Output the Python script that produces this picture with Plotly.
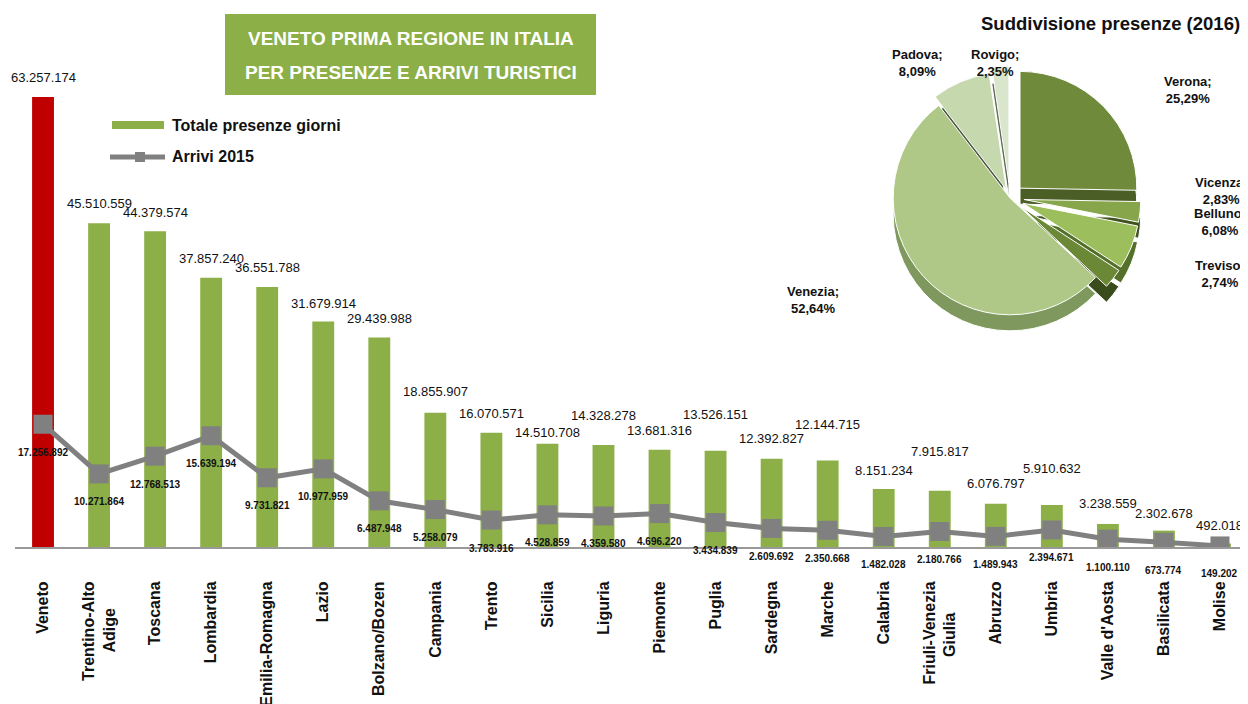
import plotly.graph_objects as go

# ---------------- data ----------------
categories = ["Veneto", "Trentino-Alto Adige", "Toscana", "Lombardia", "Emilia-Romagna",
              "Lazio", "Bolzano/Bozen", "Campania", "Trento", "Sicilia", "Liguria",
              "Piemonte", "Puglia", "Sardegna", "Marche", "Calabria",
              "Friuli-Venezia Giulia", "Abruzzo", "Umbria", "Valle d'Aosta",
              "Basilicata", "Molise"]
NB = "\u00a0"
tick_labels = ["Veneto", "Trentino-Alto<br>Adige" + NB * 6, "Toscana", "Lombardia", "Emilia-Romagna",
               "Lazio", "Bolzano/Bozen", "Campania", "Trento", "Sicilia", "Liguria",
               "Piemonte", "Puglia", "Sardegna", "Marche", "Calabria",
               "Friuli-Venezia<br>Giulia" + NB * 7, "Abruzzo", "Umbria", "Valle d'Aosta",
               "Basilicata", "Molise"]
presenze = [63257174, 45510559, 44379574, 37857240, 36551788, 31679914, 29439988,
            18855907, 16070571, 14510708, 14328278, 13681316, 13526151, 12392827,
            12144715, 8151234, 7915817, 6076797, 5910632, 3238559, 2302678, 492018]
arrivi = [17256892, 10271864, 12768513, 15639194, 9731821, 10977959, 6487948,
          5258079, 3783916, 4528859, 4359580, 4696220, 3434839, 2609692,
          2350668, 1482028, 2180766, 1489943, 2394671, 1100110, 673774, 149202]

pie_labels = ["Verona", "Vicenza", "Belluno", "Treviso", "Venezia", "Padova", "Rovigo"]
pie_values = [25.29, 2.83, 6.08, 2.74, 52.64, 8.09, 2.35]

title_lines = ["VENETO PRIMA REGIONE IN ITALIA", "PER PRESENZE E ARRIVI TURISTICI"]
pie_title = "Suddivisione presenze (2016)"
legend_names = ["Totale presenze giorni", "Arrivi 2015"]

# ---------------- style ----------------
OX, OY = 8, 8            # page body margin of the html page
W, H = 1240, 696
GREEN = "#8CAF48"
RED = "#C00000"
GREY = "#808080"
FONT = "Liberation Sans, Arial, Helvetica, sans-serif"
bar_colors = [RED] + [GREEN] * (len(categories) - 1)
bar_label_lift = [19, 20, 19, 19, 19, 18, 19, 21, 19, 11, 30, 19, 36, 20, 36, 19, 39, 20, 36, 20, 17, 18]
pie_colors = ["#708A3C", "#87A54B", "#9DBE5C", "#6A8835", "#AFC887", "#C6D8AE", "#DAE6CB"]
pie_side_colors = ["#4A5E25", "#3F521F", "#55702A", "#3A4B1C", "#7E985D", "#505C42", "#5E6A52"]
pie_pull = [0.12, 0.12, 0.12, 0.12, 0.0, 0.08, 0.13]
pie_label_pos = [(1188, 90), (1221, 191), (1220, 222), (1220, 274), (813, 300), (917, 63), (995, 63)]
pie_box = (876, 66, 1144, 330)   # left, top, right, bottom (screen px)
pie_depth = 16


def P(px, py):
    return (px - OX) / W, 1 - (py - OY) / H


def fmt_it(v):
    return f"{v:,}".replace(",", ".")


fig = go.Figure()
fig.add_trace(go.Bar(x=categories, y=presenze, marker=dict(color=bar_colors, line=dict(width=0)),
                     width=0.39, name=legend_names[0], showlegend=False))
fig.add_trace(go.Scatter(x=categories, y=arrivi, mode="lines+markers", name=legend_names[1],
                         line=dict(color=GREY, width=5),
                         marker=dict(symbol="square", size=19, color=GREY),
                         showlegend=False))

# pie "side" (depth) and top face
for colors, dy in ((pie_side_colors, pie_depth), (pie_colors, 0)):
    x0, y1 = P(pie_box[0], pie_box[1] + dy)
    x1, y0 = P(pie_box[2], pie_box[3] + dy)
    fig.add_trace(go.Pie(labels=pie_labels, values=pie_values, sort=False, direction="clockwise",
                         rotation=0, pull=pie_pull, textinfo="none", showlegend=False,
                         hoverinfo="label+percent",
                         marker=dict(colors=colors, line=dict(color="white", width=1)),
                         domain=dict(x=[x0, x1], y=[y0, y1])))

annotations = []
# bar value labels
for c, v, lift in zip(categories, presenze, bar_label_lift):
    annotations.append(dict(x=c, y=v, xref="x", yref="y", text=fmt_it(v), showarrow=False,
                            yanchor="middle", yshift=lift,
                            font=dict(family=FONT, size=13, color="#111111")))
# line value labels
for c, v in zip(categories, arrivi):
    annotations.append(dict(x=c, y=v, xref="x", yref="y", text=fmt_it(v), showarrow=False,
                            yanchor="middle", yshift=-28,
                            font=dict(family=FONT, size=10, color="#111111", weight="bold")))
# pie labels
for lab, val, (px, py) in zip(pie_labels, pie_values, pie_label_pos):
    x, y = P(px, py)
    annotations.append(dict(x=x, y=y, xref="paper", yref="paper",
                            text=f"{lab};<br>{val:.2f}%".replace(".", ","),
                            showarrow=False, xanchor="center", yanchor="middle",
                            font=dict(family=FONT, size=13, color="#111111", weight="bold")))
# pie title
x, y = P(1110, 23)
annotations.append(dict(x=x, y=y, xref="paper", yref="paper", text=pie_title, showarrow=False,
                        xanchor="center", yanchor="middle",
                        font=dict(family=FONT, size=18.5, color="#111111", weight="bold")))
# title box text
for i, t in enumerate(title_lines):
    x, y = P(411, 39 + 33 * i)
    annotations.append(dict(x=x, y=y, xref="paper", yref="paper", text=t, showarrow=False,
                            xanchor="center", yanchor="middle",
                            font=dict(family=FONT, size=19, color="white", weight="bold")))
# legend text
for i, t in enumerate(legend_names):
    x, y = P(170, 125 + 32 * i)
    annotations.append(dict(x=x, y=y, xref="paper", yref="paper", text=t, showarrow=False,
                            xanchor="left", yanchor="middle",
                            font=dict(family=FONT, size=16, color="#111111", weight="bold")))

shapes = []
bx0, by1 = P(225, 14)
bx1, by0 = P(596, 95)
shapes.append(dict(type="rect", xref="paper", yref="paper", x0=bx0, x1=bx1, y0=by0, y1=by1,
                   fillcolor=GREEN, line=dict(width=0), layer="below"))
lx0, ly1 = P(112, 121)
lx1, ly0 = P(164, 129)
shapes.append(dict(type="rect", xref="paper", yref="paper", x0=lx0, x1=lx1, y0=ly0, y1=ly1,
                   fillcolor=GREEN, line=dict(width=0)))
ax0, ay = P(110, 157)
ax1, _ = P(165, 157)
shapes.append(dict(type="line", xref="paper", yref="paper", x0=ax0, x1=ax1, y0=ay, y1=ay,
                   line=dict(color=GREY, width=5)))
mx0, my1 = P(135, 152)
mx1, my0 = P(145, 162)
shapes.append(dict(type="rect", xref="paper", yref="paper", x0=mx0, x1=mx1, y0=my0, y1=my1,
                   fillcolor=GREY, line=dict(width=0)))

fig.update_layout(
    width=W, height=H, template="none",
    margin=dict(l=0, r=0, t=0, b=0),
    paper_bgcolor="white", plot_bgcolor="rgba(0,0,0,0)",
    showlegend=False, bargap=0.6,
    font=dict(family=FONT, color="#111111"),
    xaxis=dict(domain=[(15 - OX) / W, 1], range=[-0.5, len(categories) - 0.5],
               tickmode="array", tickvals=categories, ticktext=tick_labels,
               tickangle=-90, ticks="", showgrid=False, zeroline=False,
               showline=True, linecolor="#999999", linewidth=2,
               ticklabelstandoff=26, automargin=False,
               tickfont=dict(family=FONT, size=16, color="#111111", weight="bold")),
    yaxis=dict(domain=[1 - (547 - OY) / H, 1 - (49 - OY) / H], range=[0, 70e6], visible=False,
               showgrid=False, zeroline=False, automargin=False),
    annotations=annotations, shapes=shapes,
)

fig.write_html("out.html")
